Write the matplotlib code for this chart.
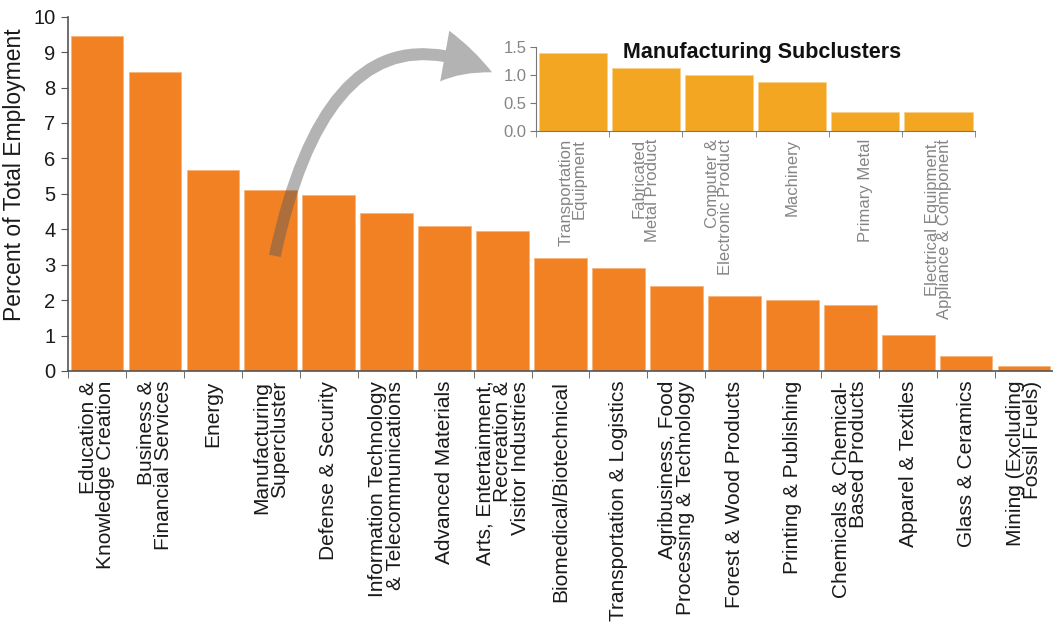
import numpy as np
import matplotlib.pyplot as plt

plt.rcParams['font.family'] = ['Liberation Sans', 'DejaVu Sans']

# employment share by cluster (percent of total employment)
clusters = [
    'Education &\nKnowledge Creation',
    'Business &\nFinancial Services',
    'Energy',
    'Manufacturing\nSupercluster',
    'Defense & Security',
    'Information Technology\n& Telecommunications',
    'Advanced Materials',
    'Arts, Entertainment,\nRecreation &\nVisitor Industries',
    'Biomedical/Biotechnical',
    'Transportation & Logistics',
    'Agribusiness, Food\nProcessing & Technology',
    'Forest & Wood Products',
    'Printing & Publishing',
    'Chemicals & Chemical-\nBased Products',
    'Apparel & Textiles',
    'Glass & Ceramics',
    'Mining (Excluding\nFossil Fuels)',
]
shares = [9.46, 8.45, 5.68, 5.11, 4.97, 4.45, 4.10, 3.96, 3.19, 2.90,
          2.41, 2.13, 2.00, 1.85, 1.03, 0.41, 0.13]

# breakdown of the manufacturing supercluster
sub_names = [
    'Transportation\nEquipment',
    'Fabricated\nMetal Product',
    'Computer &\nElectronic Product',
    'Machinery',
    'Primary Metal',
    'Electrical Equipment,\nAppliance & Component',
]
sub_shares = [1.39, 1.13, 1.01, 0.87, 0.34, 0.34]

fig = plt.figure(figsize=(10.53, 6.27), dpi=100)

# main chart
ax = fig.add_axes([0.0646, 0.4083, 0.9354, 0.5651])
x = np.arange(len(clusters))
ax.bar(x, shares, width=0.91, color='#f28123', edgecolor='#f8b57c', linewidth=0.6)
ax.set_xlim(-0.5, len(clusters) - 0.5)
ax.set_ylim(0, 10)
ax.set_yticks(range(0, 11))
ax.tick_params(axis='y', labelsize=14.5, length=5, color='#555555', pad=4, labelcolor='#1a1a1a')
ax.set_xticks(x)
ax.set_xticklabels(clusters, rotation=90, fontsize=15, linespacing=0.9,
                   ha='center', va='top', multialignment='right', color='#1a1a1a')
ax.tick_params(axis='x', which='major', length=0, pad=7)
ax.set_xticks(np.arange(-0.5, len(clusters)), minor=True)
ax.tick_params(axis='x', which='minor', length=5, color='#555555')
for s in ['top', 'right']:
    ax.spines[s].set_visible(False)
for s in ['left', 'bottom']:
    ax.spines[s].set_color('#555555')
    ax.spines[s].set_linewidth(1.2)

fig.text(0.0142, 0.721, 'Percent of Total Employment', rotation=90,
         fontsize=16.5, ha='center', va='center', color='#1a1a1a')

# inset for the manufacturing subclusters
ins = fig.add_axes([0.509, 0.7916, 0.417, 0.133])
xs = np.arange(len(sub_names))
ins.bar(xs, sub_shares, width=0.93, color='#f2a622', edgecolor='#f7d08a', linewidth=0.5)
ins.set_xlim(-0.5, len(sub_names) - 0.5)
ins.set_ylim(0, 1.5)
ins.set_yticks([0, 0.5, 1.0, 1.5])
ins.set_yticklabels(['0.0', '0.5', '1.0', '1.5'])
ins.tick_params(axis='y', labelsize=12, length=4, color='#777777', labelcolor='#858585', pad=3)
ins.set_xticks(xs)
ins.set_xticklabels(sub_names, rotation=90, fontsize=12, linespacing=0.8,
                    ha='center', va='top', multialignment='right', color='#858585')
ins.tick_params(axis='x', which='major', length=0, pad=6)
ins.set_xticks(np.arange(-0.5, len(sub_names)), minor=True)
ins.tick_params(axis='x', which='minor', length=4, color='#777777')
for s in ['top', 'right']:
    ins.spines[s].set_visible(False)
for s in ['left', 'bottom']:
    ins.spines[s].set_color('#777777')
ins.text(0.515, 0.935, 'Manufacturing Subclusters', transform=ins.transAxes,
         fontsize=15.5, fontweight='bold', ha='center', va='center', color='#111111')

# curved arrow from the manufacturing bar to the inset
ax.annotate('', xy=(-0.10, 0.70), xycoords=ins.transAxes,
            xytext=(3.07, 3.25), textcoords='data',
            arrowprops=dict(arrowstyle='simple,head_length=36,head_width=37,tail_width=8.6',
                            connectionstyle='angle3,angleA=78,angleB=-26', mutation_scale=1,
                            fc='#575857', ec='none', lw=0, alpha=0.45,
                            shrinkA=0, shrinkB=0),
            annotation_clip=False)

fig.savefig('out.png', dpi=100)
